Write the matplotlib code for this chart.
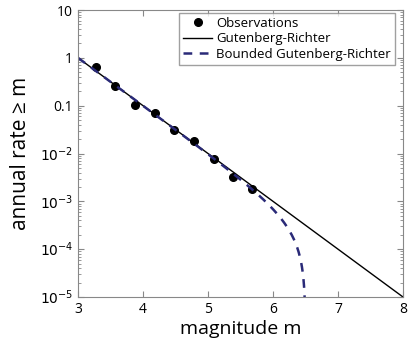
import numpy as np
import matplotlib
matplotlib.use('Agg')
import matplotlib.pyplot as plt
from matplotlib.ticker import FixedLocator, FixedFormatter, LogLocator, NullFormatter

plt.rcParams['font.family'] = ['Open Sans', 'DejaVu Sans']

# observed annual rates of exceedance
obs_mag = [3.28, 3.57, 3.88, 4.18, 4.48, 4.78, 5.09, 5.38, 5.68]
obs_rate = [0.65, 0.26, 0.103, 0.071, 0.031, 0.018, 0.0076, 0.0032, 0.0018]

# model parameters
m_min = 3.0
rate_min = 1.0
b_value = 1.0
m_max = 6.5

ytick_vals = [1e-5, 1e-4, 1e-3, 1e-2, 0.1, 1, 10]
ytick_labels = ['$10^{-5}$', '$10^{-4}$', '$10^{-3}$', '$10^{-2}$', '0.1', '1', '10']
xtick_vals = [3, 4, 5, 6, 7, 8]

m = np.linspace(3, 8, 400)
gr = rate_min * 10 ** (-b_value * (m - m_min))

mb = np.linspace(3, m_max, 2000)
tail = 10 ** (-b_value * (m_max - m_min))
bgr = rate_min * (10 ** (-b_value * (mb - m_min)) - tail) / (1 - tail)
bgr = np.clip(bgr, 1e-6, None)

fig = plt.figure(figsize=(4.10, 3.47), dpi=100)
ax = fig.add_axes([78/410, 50/347, 325/410, 287/347])

ax.plot(obs_mag, obs_rate, 'o', color='black', ms=5.5, label='Observations')
ax.plot(m, gr, '-', color='black', lw=1, label='Gutenberg-Richter')
ax.plot(mb, bgr, '--', color='#2a2a78', lw=1.8, dashes=(3.5, 3), label='Bounded Gutenberg-Richter')

ax.set_yscale('log')
ax.set_xlim(3, 8)
ax.set_ylim(1e-5, 10)
ax.yaxis.set_major_locator(FixedLocator(ytick_vals))
ax.yaxis.set_major_formatter(FixedFormatter(ytick_labels))
ax.yaxis.set_minor_locator(LogLocator(base=10, subs=np.arange(2, 10)))
ax.yaxis.set_minor_formatter(NullFormatter())
ax.set_xticks(xtick_vals)

ax.tick_params(which='both', direction='in', top=True, right=True, color='#888888', labelsize=10)
ax.tick_params(which='major', length=4)
ax.tick_params(which='minor', length=2)
for s in ax.spines.values():
    s.set_color('#888888')

ax.set_xlabel('magnitude m', fontsize=14, labelpad=2)
ax.set_ylabel('annual rate ≥ m', fontsize=15, labelpad=6)

leg = ax.legend(loc='upper right', bbox_to_anchor=(0.975, 0.99), fontsize=9.5,
                fancybox=False, edgecolor='#888888', handlelength=2.2,
                borderpad=0.3, labelspacing=0.2, handletextpad=0.3, borderaxespad=0)
leg.get_frame().set_linewidth(1)

fig.savefig('out.png', dpi=100)
